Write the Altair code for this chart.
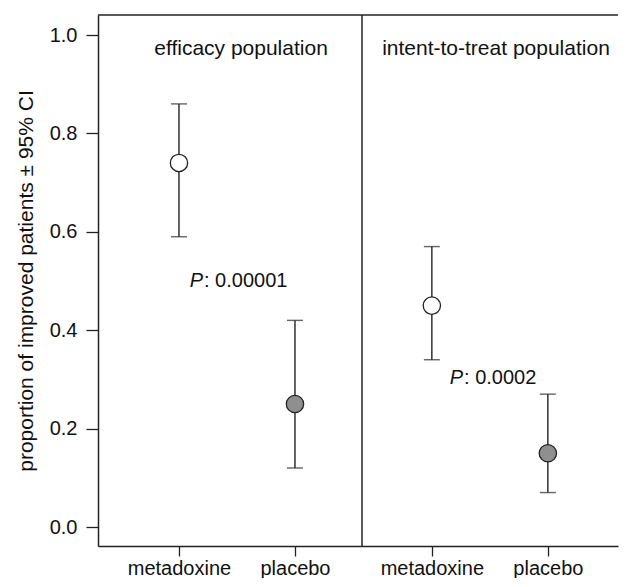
import altair as alt
import pandas as pd

# ---- data ----
groups = ["efficacy population", "efficacy population",
          "intent-to-treat population", "intent-to-treat population"]
treatments = ["metadoxine", "placebo", "metadoxine", "placebo"]
proportion = [0.74, 0.25, 0.45, 0.15]
ci_low = [0.59, 0.12, 0.34, 0.07]
ci_high = [0.86, 0.42, 0.57, 0.27]
panel_titles = ["efficacy population", "intent-to-treat population"]
p_values = ["0.00001", "0.0002"]
p_y = [0.488, 0.29]

# ---- layout constants ----
FONT = "Liberation Sans"
FS = 20
X_POS = [1.0, 2.0, 3.18, 4.18]
W, H = 520, 531
X_DOMAIN = [0.302, 0.302 + W / 116]
Y_DOMAIN = [-0.0386, 1.0407]
DIVIDER = 2.578
TITLE_X = [1.535, 3.733]
P_X = [1.207, 3.449]

df = pd.DataFrame({
    "group": groups, "treatment": treatments, "x": X_POS,
    "p": proportion, "lo": ci_low, "hi": ci_high,
})
titles = pd.DataFrame({"t": panel_titles, "x": TITLE_X, "y": [0.959, 0.959]})
ptext = pd.DataFrame({"v": [": " + v for v in p_values], "x": P_X, "y": p_y})

label_map = {x: t for x, t in zip(X_POS, treatments)}
label_expr = " : ".join(
    f"abs(datum.value - {x}) < 0.01 ? '{t}'" for x, t in label_map.items()
) + " : ''"

xs = alt.Scale(domain=X_DOMAIN, nice=False, zero=False)
ys = alt.Scale(domain=Y_DOMAIN, nice=False, zero=False)

x_axis = alt.Axis(values=X_POS, labelExpr=label_expr, title=None, grid=False,
                  tickSize=10, tickColor="#222", tickWidth=1.3,
                  domainColor="#222", domainWidth=1.5, labelPadding=2,
                  labelFont=FONT, labelFontSize=FS, labelColor="#111")
y_axis = alt.Axis(values=[0, 0.2, 0.4, 0.6, 0.8, 1.0], format=".1f", grid=False,
                  title="proportion of improved patients ± 95% CI",
                  tickSize=12, tickColor="#222", tickWidth=1.3,
                  domainColor="#222", domainWidth=1.5, labelPadding=9,
                  labelFont=FONT, labelFontSize=FS, labelColor="#111",
                  titleFont=FONT, titleFontSize=21, titleFontWeight="normal",
                  titleColor="#111", titlePadding=13)

base = alt.Chart(df)

bars = base.mark_rule(color="#222", strokeWidth=1.4).encode(
    x=alt.X("x:Q", scale=xs, axis=x_axis),
    y=alt.Y("lo:Q", scale=ys, axis=y_axis),
    y2="hi:Q",
)
cap_lo = base.mark_tick(orient="horizontal", size=16, thickness=1.4, color="#222").encode(
    x=alt.X("x:Q", scale=xs), y=alt.Y("lo:Q", scale=ys))
cap_hi = base.mark_tick(orient="horizontal", size=16, thickness=1.4, color="#222").encode(
    x=alt.X("x:Q", scale=xs), y=alt.Y("hi:Q", scale=ys))
points = base.mark_point(shape="circle", filled=True, size=300, stroke="#222",
                         strokeWidth=1.3, opacity=1).encode(
    x=alt.X("x:Q", scale=xs),
    y=alt.Y("p:Q", scale=ys),
    fill=alt.Fill("treatment:N", scale=alt.Scale(domain=["metadoxine", "placebo"],
                                                 range=["#ffffff", "#8f8f8f"]),
                  legend=None),
)

divider = alt.Chart(pd.DataFrame({"x": [DIVIDER]})).mark_rule(
    color="#222", strokeWidth=1.5).encode(
    x=alt.X("x:Q", scale=xs), y=alt.value(0), y2=alt.value(H))
top_line = alt.Chart(pd.DataFrame({"y": [Y_DOMAIN[1]]})).mark_rule(
    color="#222", strokeWidth=1.5).encode(
    y=alt.Y("y:Q", scale=ys), x=alt.value(0), x2=alt.value(W))

title_text = alt.Chart(titles).mark_text(
    font=FONT, fontSize=21, align="center", baseline="alphabetic", color="#111").encode(
    x=alt.X("x:Q", scale=xs), y=alt.Y("y:Q", scale=ys), text="t:N")

p_italic = alt.Chart(ptext).mark_text(
    font=FONT, fontSize=FS, fontStyle="italic", align="right", baseline="alphabetic",
    color="#111").encode(
    x=alt.X("x:Q", scale=xs), y=alt.Y("y:Q", scale=ys), text=alt.value("P"))
p_rest = alt.Chart(ptext).mark_text(
    font=FONT, fontSize=FS, align="left", baseline="alphabetic", dx=1,
    color="#111").encode(
    x=alt.X("x:Q", scale=xs), y=alt.Y("y:Q", scale=ys), text="v:N")

chart = alt.layer(
    top_line, divider, bars, cap_lo, cap_hi, points, title_text, p_italic, p_rest
).properties(
    width=W, height=H,
    padding={"left": 7, "top": 6, "right": 0, "bottom": 0},
    background="white",
).configure_view(strokeWidth=0)

chart.save("out.html", embed_options={"renderer": "svg", "actions": False})
